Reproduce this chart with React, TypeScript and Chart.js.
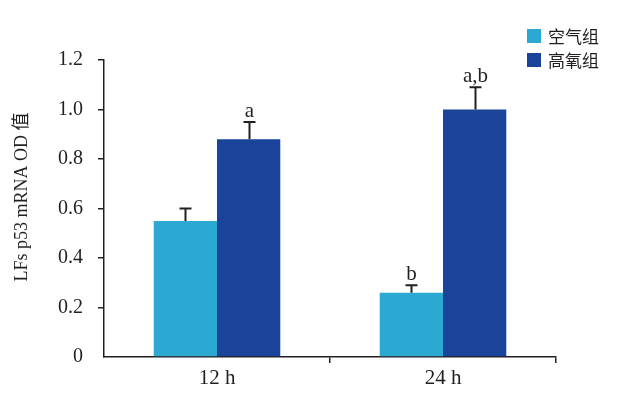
import { useEffect, useRef } from "react";
import { Chart, registerables } from "chart.js";
Chart.register(...registerables);

const categories = ["12 h", "24 h"];
const seriesNames = ["空气组", "高氧组"];
const airValues = [0.55, 0.26];
const hyperValues = [0.88, 1.0];
const airErrors = [0.05, 0.03];
const hyperErrors = [0.07, 0.09];
const airMarks = ["", "b"];
const hyperMarks = ["a", "a,b"];
const yTitle = "LFs p53 mRNA OD 值";

const AIR_COLOR = "#2BA9D3";
const HYPER_COLOR = "#1A4499";
const INK = "#231f20";
const SERIF = "'Liberation Serif', 'Times New Roman', 'Noto Sans CJK SC', serif";

const errors = [airErrors, hyperErrors];
const marks = [airMarks, hyperMarks];

const errorBarPlugin = {
  id: "errorBars",
  afterDatasetsDraw(chart: any) {
    const ctx = chart.ctx;
    const yScale = chart.scales.y;
    ctx.save();
    chart.data.datasets.forEach((ds: any, i: number) => {
      const meta = chart.getDatasetMeta(i);
      meta.data.forEach((bar: any, j: number) => {
        const v = ds.data[j];
        const e = errors[i][j];
        const x = Math.round(bar.x) + 0.5;
        const yTop = yScale.getPixelForValue(v + e);
        const yBar = bar.y;
        ctx.strokeStyle = INK;
        ctx.lineWidth = 2;
        ctx.beginPath();
        ctx.moveTo(x, yBar);
        ctx.lineTo(x, yTop);
        ctx.moveTo(x - 6, yTop);
        ctx.lineTo(x + 6, yTop);
        ctx.stroke();
        const m = marks[i][j];
        if (m) {
          ctx.fillStyle = INK;
          ctx.font = `21px ${SERIF}`;
          ctx.textAlign = "center";
          ctx.textBaseline = "alphabetic";
          ctx.fillText(m, x, yTop - 5);
        }
      });
    });
    ctx.restore();
  },
};

const decorPlugin = {
  id: "decor",
  afterDraw(chart: any) {
    const ctx = chart.ctx;
    ctx.save();
    const colors = [AIR_COLOR, HYPER_COLOR];
    seriesNames.forEach((name, i) => {
      const cy = 36 + i * 24;
      ctx.fillStyle = colors[i];
      ctx.fillRect(527, cy - 7, 14, 14);
      ctx.fillStyle = INK;
      ctx.font = `17px 'Noto Sans CJK SC', sans-serif`;
      ctx.textAlign = "left";
      ctx.textBaseline = "middle";
      ctx.fillText(name, 548, cy + 1);
    });
    ctx.translate(22, 197);
    ctx.rotate(-Math.PI / 2);
    ctx.fillStyle = INK;
    ctx.font = `18px ${SERIF}`;
    ctx.textAlign = "center";
    ctx.textBaseline = "middle";
    ctx.fillText(yTitle, 0, 0);
    ctx.restore();
  },
};

export default function App() {
  const ref = useRef<HTMLCanvasElement | null>(null);
  useEffect(() => {
    if (!ref.current) return;
    const chart = new Chart(ref.current, {
      type: "bar",
      data: {
        labels: categories,
        datasets: [
          { label: seriesNames[0], data: airValues, backgroundColor: AIR_COLOR, borderWidth: 0 },
          { label: seriesNames[1], data: hyperValues, backgroundColor: HYPER_COLOR, borderWidth: 0 },
        ],
      },
      options: {
        responsive: false,
        animation: false,
        devicePixelRatio: 1,
        layout: { padding: { left: 0, top: 60, right: 63, bottom: 0 } },
        plugins: { legend: { display: false }, tooltip: { enabled: false } },
        datasets: { bar: { categoryPercentage: 0.56, barPercentage: 1 } },
        scales: {
          x: {
            afterFit: (s: any) => { s.height = 42; },
            grid: {
              offset: true,
              drawOnChartArea: false,
              drawTicks: true,
              tickLength: 6,
              lineWidth: 1.5,
              color: (c: any) => (c.index === 0 ? "rgba(0,0,0,0)" : INK),
            },
            border: { display: true, color: INK, width: 1.5 },
            ticks: { color: INK, font: { family: SERIF, size: 21 }, padding: 3 },
          },
          y: {
            min: 0,
            max: 1.2,
            afterFit: (s: any) => { s.width = 104; },
            grid: {
              drawOnChartArea: false,
              drawTicks: true,
              tickLength: 6,
              lineWidth: 1.5,
              color: (c: any) => (c.tick && c.tick.value === 0 ? "rgba(0,0,0,0)" : INK),
            },
            border: { display: true, color: INK, width: 1.5 },
            ticks: {
              stepSize: 0.2,
              color: INK,
              padding: 15,
              font: { family: SERIF, size: 20 },
              callback: (v: any) => (Number(v) === 0 ? "0" : Number(v).toFixed(1)),
            },
          },
        },
      },
      plugins: [errorBarPlugin, decorPlugin],
    });
    return () => chart.destroy();
  }, []);
  return (
    <div style={{ position: "absolute", left: 0, top: 0, width: 619, height: 399, background: "#fff" }}>
      <canvas ref={ref} width={619} height={399} />
    </div>
  );
}
